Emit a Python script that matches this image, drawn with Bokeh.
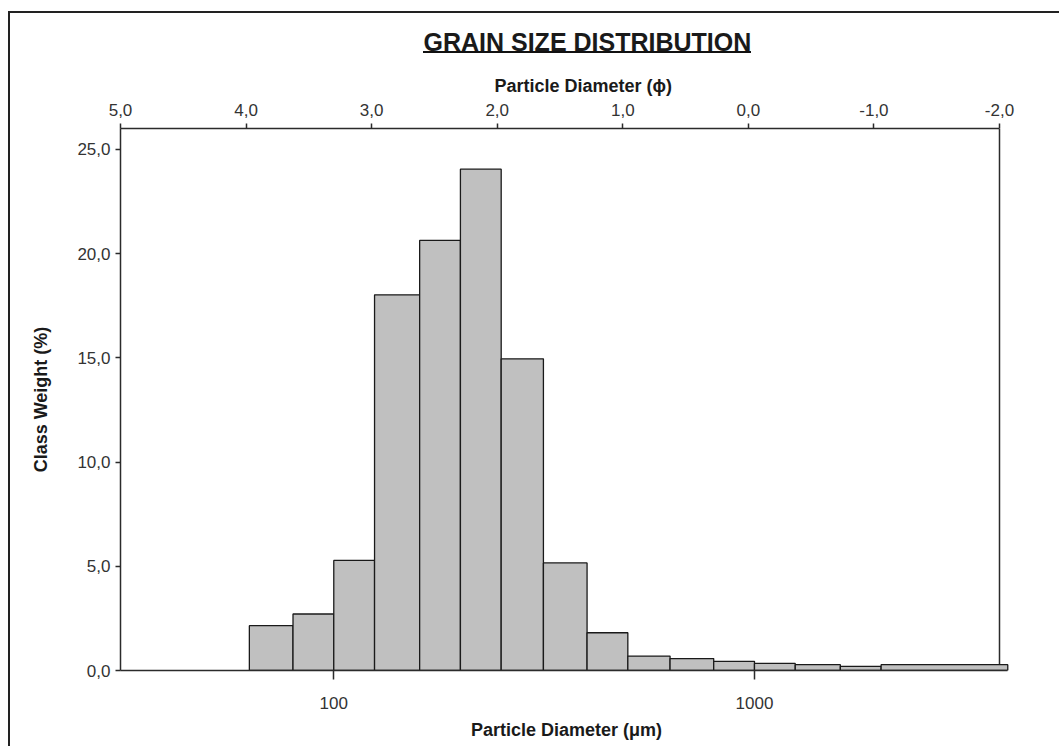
from bokeh.plotting import figure
from bokeh.models import Range1d, LinearAxis, LinearScale, FixedTicker, ColumnDataSource, Title
from bokeh.embed import file_html
from bokeh.resources import INLINE

# ---------------- data ----------------
sieve_edges_um = [63, 80, 100, 125, 160, 200, 250, 315, 400, 500, 630, 800,
                  1000, 1250, 1600, 2000, 4000]
class_weight_pct = [2.15, 2.71, 5.28, 18.02, 20.63, 24.05, 14.95, 5.16, 1.81,
                    0.69, 0.57, 0.44, 0.34, 0.28, 0.20, 0.28]
phi_ticks = [5, 4, 3, 2, 1, 0, -1, -2]
phi_tick_labels = ["5,0", "4,0", "3,0", "2,0", "1,0", "0,0", "-1,0", "-2,0"]
um_ticks = [100, 1000]
um_tick_labels = ["100", "1000"]
y_ticks = [0, 5, 10, 15, 20, 25]
y_tick_labels = ["0,0", "5,0", "10,0", "15,0", "20,0", "25,0"]

title_text = "GRAIN SIZE DISTRIBUTION"
phi_axis_label = "Particle Diameter (\u03d5)"
um_axis_label = "Particle Diameter (\u03bcm)"
y_axis_label = "Class Weight (%)"

# axis extents
um_range = (31.12, 4105)
phi_range = (5.0, -2.1035)
y_range = (0, 26)

FONT = "Liberation Sans"
TXT = "#1a1a1a"
TICK_TXT = "#333333"
AX = "#2b2b2b"
TICK_SIZE = "17px"
LABEL_SIZE = "18px"

src = ColumnDataSource(dict(
    left=sieve_edges_um[:-1],
    right=sieve_edges_um[1:],
    top=class_weight_pct,
    bottom=[0] * len(class_weight_pct),
))

p = figure(width=1059, height=746, x_axis_type="log",
           x_range=Range1d(*um_range), y_range=Range1d(*y_range),
           output_backend="svg", toolbar_location=None,
           min_border_left=120, min_border_right=47,
           min_border_top=128, min_border_bottom=76,
           title=title_text)

p.border_fill_color = None
p.background_fill_color = "white"
p.outline_line_color = None
p.xgrid.visible = False
p.ygrid.visible = False

# outer chart border + title underline painted as CSS behind the transparent canvas
p.styles = {
    "background-color": "white",
    "background-image": "linear-gradient(#222,#222), linear-gradient(#222,#222), linear-gradient(#111,#111)",
    "background-position": "8px 11px, 8px 11px, 423px 51px",
    "background-size": "2px 735px, 1051px 2px, 328px 2px",
    "background-repeat": "no-repeat",
}

# main title
p.title.text_font = FONT
p.title.text_font_size = "25px"
p.title.text_font_style = "bold"
p.title.text_color = TXT
p.title.align = "left"
p.title.offset = 303
p.title.standoff = 28

# bottom axis (um, log)
bx = p.xaxis[0]
bx.ticker = FixedTicker(ticks=um_ticks)
bx.major_label_overrides = dict(zip(um_ticks, um_tick_labels))
bx.bounds = (um_range[0], sieve_edges_um[-1])
bx.axis_label = um_axis_label
bx.axis_label_text_font = FONT
bx.axis_label_text_font_size = LABEL_SIZE
bx.axis_label_text_font_style = "bold"
bx.axis_label_text_color = TXT
bx.axis_label_standoff = 8
bx.major_label_text_font = FONT
bx.major_label_text_font_size = TICK_SIZE
bx.major_label_text_color = TICK_TXT
bx.major_label_standoff = 17
bx.major_tick_out = 9
bx.major_tick_in = 0
bx.minor_tick_line_color = None
bx.axis_line_color = AX
bx.axis_line_width = 1.5
bx.major_tick_line_color = AX
bx.major_tick_line_width = 1.5

# left axis
ly = p.yaxis[0]
ly.ticker = FixedTicker(ticks=y_ticks)
ly.major_label_overrides = dict(zip(y_ticks, y_tick_labels))
ly.axis_label = y_axis_label
ly.axis_label_text_font = FONT
ly.axis_label_text_font_size = LABEL_SIZE
ly.axis_label_text_font_style = "bold"
ly.axis_label_text_color = TXT
ly.axis_label_standoff = 23
ly.major_label_text_font = FONT
ly.major_label_text_font_size = TICK_SIZE
ly.major_label_text_color = TICK_TXT
ly.major_label_standoff = 5
ly.major_tick_out = 5
ly.major_tick_in = 0
ly.minor_tick_line_color = None
ly.axis_line_color = AX
ly.axis_line_width = 1.5
ly.major_tick_line_color = AX
ly.major_tick_line_width = 1.5

# top axis (phi, linear)
p.extra_x_ranges = {"phi": Range1d(*phi_range)}
p.extra_x_scales = {"phi": LinearScale()}
tx = LinearAxis(x_range_name="phi", ticker=FixedTicker(ticks=phi_ticks))
tx.major_label_overrides = dict(zip(phi_ticks, phi_tick_labels))
tx.bounds = (min(phi_ticks), max(phi_ticks))
tx.major_label_text_font = FONT
tx.major_label_text_font_size = TICK_SIZE
tx.major_label_text_color = TICK_TXT
tx.major_label_standoff = 8
tx.major_tick_out = 5
tx.major_tick_in = 0
tx.minor_tick_line_color = None
tx.axis_line_color = AX
tx.axis_line_width = 1.5
tx.major_tick_line_color = AX
tx.major_tick_line_width = 1.5
p.add_layout(tx, "above")

phi_title = Title(text=phi_axis_label, text_font=FONT, text_font_size=LABEL_SIZE,
                  text_font_style="bold", text_color=TXT, align="left",
                  offset=374, standoff=9)
p.add_layout(phi_title, "above")

# right frame line at phi = -2 (drawn beneath the bars)
p.segment(x0=[phi_ticks[-1]], x1=[phi_ticks[-1]], y0=[y_range[0]], y1=[y_range[1]],
          x_range_name="phi", line_color=AX, line_width=1.5, level="underlay")

# histogram bars
p.quad(left="left", right="right", top="top", bottom="bottom", source=src,
       fill_color="#c0c0c0", line_color="#1a1a1a", line_width=1.3)

open("out.html", "w").write(file_html(p, INLINE))
